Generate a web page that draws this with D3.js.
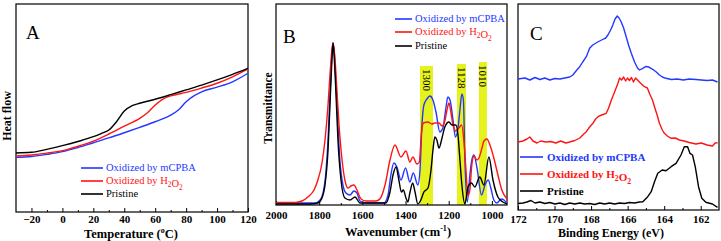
<!DOCTYPE html>
<html>
<head>
<meta charset="utf-8">
<script src="https://cdn.jsdelivr.net/npm/d3@7"></script>
<style>
  body { margin: 0; background: #fff; }
  svg { display: block; }
  svg text { font-family: "Liberation Serif", "Times New Roman", serif; }
</style>
</head>
<body>
<svg id="chart" width="721" height="241"></svg>
<script>
// series labels and colours
const seriesLabels = ['Oxidized by mCPBA', 'Oxidized by H2O2', 'Pristine'];
const seriesColors = ['#2438ff', '#ff1414', '#000000'];

// panel A: DSC heat flow (a.u.) vs temperature (°C)
const tempTicks = [-20, 0, 20, 40, 60, 80, 100, 120];
const dscMcpba = [[-30, 26.3], [-20, 26.7], [-10, 27.7], [0, 29.0], [10, 31.0], [20, 33.3], [30, 35.6], [40, 38.1], [50, 40.7], [60, 43.4], [70, 46.6], [75, 49.0], [80, 53.0], [85, 55.8], [90, 57.8], [100, 60.0], [110, 62.6], [120, 66.7]];
const dscH2o2 = [[-30, 26.9], [-20, 27.4], [-10, 28.3], [0, 29.5], [10, 31.6], [20, 34.1], [30, 37.5], [40, 41.3], [50, 45.0], [55, 47.7], [60, 51.4], [65, 54.3], [70, 55.8], [80, 57.5], [90, 59.6], [100, 61.9], [110, 65.0], [120, 68.8]];
const dscPristine = [[-30, 28.4], [-20, 28.7], [-10, 30.1], [0, 31.9], [10, 33.9], [20, 36.2], [25, 37.7], [30, 39.4], [35, 43.4], [40, 48.6], [45, 51.1], [50, 52.3], [60, 54.2], [70, 56.4], [80, 58.7], [90, 61.0], [100, 63.5], [110, 66.2], [120, 69.1]];

// panel B: FTIR transmittance (a.u.) vs wavenumber (cm-1)
const waveTicks = [2000, 1800, 1600, 1400, 1200, 1000];
const bandLabels = ['1300', '1128', '1010'];
const bandFrom = [1333, 1162, 1060];
const bandTo = [1273, 1120, 1023];
const bandTop = [69.5, 70.5, 71.5];
const irMcpba = [[2000, 1], [1819, 1], [1796, 2.5], [1782, 6], [1768, 17.5], [1759, 32.5], [1750, 55], [1741, 75], [1736, 81], [1731, 77.5], [1722, 60], [1713, 40], [1704, 22.5], [1690, 10], [1676, 6], [1657, 5], [1639, 7], [1625, 6], [1611, 2], [1583, 1], [1500, 1], [1481, 5], [1468, 15], [1454, 21], [1440, 19], [1421, 12.5], [1400, 18.5], [1380, 11.5], [1364, 16], [1343, 10], [1333, 17.5], [1324, 40], [1315, 50], [1301, 53], [1287, 54.5], [1273, 52.5], [1259, 46.5], [1241, 36.5], [1227, 38.5], [1213, 48.5], [1204, 54], [1194, 52.5], [1180, 42.5], [1169, 34], [1157, 38.5], [1148, 47.5], [1139, 55.5], [1132, 52.5], [1125, 22.5], [1114, 1.5], [1102, 15], [1093, 22.5], [1083, 25], [1069, 18.5], [1048, 5], [1032, 10], [1017, 12.5], [1005, 8.5], [991, 2.5], [977, 1], [956, 3], [944, 2.5], [930, 0.5]];
const irH2o2 = [[2000, 1.25], [1912, 1.25], [1880, 2], [1852, 4], [1824, 7.5], [1806, 12.5], [1787, 21], [1773, 32.5], [1759, 50], [1750, 65], [1741, 77.5], [1736, 81], [1727, 73.5], [1718, 57.5], [1708, 40], [1694, 22.5], [1681, 12.5], [1667, 8.5], [1653, 9.5], [1639, 10], [1625, 7.5], [1606, 3], [1583, 2], [1537, 2], [1519, 3], [1495, 10], [1472, 22.5], [1449, 30], [1421, 24], [1398, 27], [1380, 21.5], [1366, 24], [1347, 20.5], [1336, 21.5], [1327, 35], [1317, 41], [1296, 41.5], [1278, 40.5], [1264, 41], [1245, 41], [1231, 39.5], [1218, 42], [1208, 47.5], [1199, 51], [1190, 46.5], [1180, 40], [1167, 37], [1153, 38.5], [1140, 40], [1130, 32.5], [1120, 17.5], [1111, 4.5], [1102, 7.5], [1093, 20], [1083, 24.5], [1069, 22.5], [1060, 23.5], [1046, 28.5], [1037, 32], [1023, 33], [1009, 30], [991, 23.5], [972, 15], [954, 7.5], [930, 3]];
const irPristine = [[2000, 0.5], [1843, 0.5], [1806, 1], [1787, 3.5], [1773, 10], [1759, 27.5], [1750, 50], [1741, 72.5], [1736, 81], [1731, 75], [1722, 55], [1713, 32.5], [1699, 12.5], [1681, 3.5], [1657, 2.5], [1634, 4], [1611, 1], [1491, 1], [1472, 6.5], [1458, 15], [1444, 19], [1431, 12.5], [1419, 6.5], [1410, 7.5], [1398, 3.5], [1389, 1.5], [1380, 6], [1367, 11], [1356, 6.5], [1343, 0.5], [1329, 2.5], [1315, 6.5], [1296, 8.5], [1282, 17.5], [1273, 27.5], [1264, 34], [1255, 32.5], [1245, 28.5], [1231, 33.5], [1218, 39], [1199, 41.5], [1185, 40], [1167, 40], [1157, 35], [1148, 22.5], [1139, 10], [1125, 0.5], [1111, 9], [1095, 11], [1079, 9], [1056, 14], [1037, 10], [1014, 24], [995, 12.5], [972, 4], [949, 1.5], [930, 0.5]];

// panel C: XPS S 2p intensity (a.u.) vs binding energy (eV)
const energyTicks = [172, 170, 168, 166, 164, 162];
const xpsMcpba = [[172, 65.5], [171.62, 66], [171.35, 65], [171.07, 66.25], [170.8, 65.25], [170.53, 66], [170.26, 65], [169.98, 65.75], [169.71, 65.5], [169.44, 66], [169.17, 66.5], [169.0, 67.5], [168.78, 70], [168.62, 71.65], [168.46, 74], [168.26, 76.65], [168.08, 80.85], [167.91, 82.5], [167.64, 84], [167.37, 85.25], [167.2, 86], [167.08, 87.5], [166.93, 90], [166.81, 92.5], [166.69, 95.5], [166.57, 97], [166.47, 96], [166.35, 94], [166.22, 91], [166.08, 86.65], [165.95, 82.5], [165.8, 78.35], [165.62, 74], [165.46, 71], [165.35, 70], [165.17, 70.85], [165.02, 71.75], [164.9, 71.65], [164.75, 71], [164.63, 70.35], [164.43, 69], [164.26, 67.5], [164.1, 66.5], [163.9, 65.85], [163.61, 65.25], [163.28, 65.5], [162.95, 65], [162.63, 65.5], [162.26, 65.25], [161.97, 65], [161.65, 64.75], [161.36, 65], [161.08, 64]];
const xpsH2o2 = [[172, 34], [171.73, 34.5], [171.51, 35.5], [171.35, 36.5], [171.18, 34.5], [170.96, 33.5], [170.75, 34.5], [170.47, 34], [170.2, 34.25], [169.93, 33.5], [169.66, 34.5], [169.38, 33.5], [169.17, 34], [168.89, 34.75], [168.62, 36], [168.4, 38], [168.26, 39.15], [168.08, 41.5], [167.9, 43.35], [167.75, 45.5], [167.62, 46.65], [167.42, 47.5], [167.17, 48.35], [167.04, 51], [166.89, 55], [166.71, 59.15], [166.53, 63.35], [166.44, 66], [166.33, 65], [166.22, 66.5], [166.11, 64.5], [166.01, 66], [165.9, 64.75], [165.79, 66.25], [165.68, 64], [165.57, 66], [165.46, 65], [165.3, 63.5], [165.08, 61.65], [164.92, 61], [164.81, 58.35], [164.64, 55], [164.53, 51.65], [164.37, 47], [164.26, 43.35], [164.1, 40], [163.99, 38.35], [163.83, 37], [163.62, 35.85], [163.39, 36], [163.17, 35], [162.9, 34.5], [162.63, 33.75], [162.26, 33], [161.97, 33.5], [161.65, 32.5], [161.36, 32], [161.21, 33.5], [161.08, 33.65]];
const xpsPristine = [[172, 3.25], [171.73, 3.5], [171.51, 4], [171.29, 4.75], [171.07, 3.5], [170.8, 4], [170.53, 3.25], [170.26, 3.75], [169.98, 3], [169.71, 3.5], [169.44, 2.75], [169.17, 3.5], [168.89, 3], [168.62, 3.5], [168.35, 3], [168.08, 3.25], [167.8, 2.75], [167.53, 3.5], [167.26, 3], [166.99, 3.5], [166.71, 3], [166.44, 3.5], [166.17, 3.25], [165.9, 3.75], [165.62, 3.5], [165.35, 4], [165.17, 4.15], [164.9, 6.65], [164.71, 9.15], [164.53, 14.15], [164.35, 18.35], [164.11, 20], [163.9, 19.65], [163.62, 21.65], [163.35, 23.35], [163.08, 27.5], [162.9, 31.65], [162.72, 31.65], [162.59, 28.35], [162.45, 27.5], [162.3, 21.65], [162.12, 11.65], [161.94, 5.85], [161.72, 3.85], [161.36, 3], [161.08, 1.35]];

const svg = d3.select('#chart');

// H2O2 -> subscripted digits
const richText = (sel, label) => {
  label.split(/(\d)/).filter(s => s !== '').forEach((part) => {
    if (/\d/.test(part)) {
      sel.append('tspan').attr('font-size', '70%').attr('dy', 3).text(part);
      sel.append('tspan').attr('dy', -3).text('');
    } else {
      sel.append('tspan').text(part);
    }
  });
};

const frame = (x, y, opts) => {
  const g = svg.append('g');
  const [x0, x1] = x.range();
  const [y0, y1] = y.range();
  g.append('rect')
    .attr('x', x0).attr('y', y1)
    .attr('width', x1 - x0).attr('height', y0 - y1)
    .attr('fill', 'none').attr('stroke', '#000').attr('stroke-width', 1.2);
  const minor = g.append('g').attr('transform', `translate(0,${y0})`)
    .call(d3.axisBottom(x).tickValues(opts.minor).tickSize(-2).tickFormat(''));
  const major = g.append('g').attr('transform', `translate(0,${y0})`)
    .call(d3.axisBottom(x).tickValues(opts.major).tickFormat(d3.format('d'))
      .tickSizeInner(-4).tickSizeOuter(0).tickPadding(opts.pad));
  [minor, major].forEach(a => a.attr('font-family', null).select('.domain').remove());
  g.selectAll('.tick line').attr('stroke', '#000').attr('stroke-width', 1);
  major.selectAll('text')
    .attr('font-size', 11).attr('font-weight', 'bold').attr('fill', '#000');
  return g;
};

const drawLines = (x, y, sets, curve) => {
  const line = d3.line().x(d => x(d[0])).y(d => y(d[1])).curve(curve);
  sets.forEach((s, i) => {
    svg.append('path').datum(s)
      .attr('d', line)
      .attr('fill', 'none')
      .attr('stroke', seriesColors[i])
      .attr('stroke-width', 1.4)
      .attr('stroke-linejoin', 'round');
  });
};

const legend = (x1, x2, tx, ys, size, bold) => {
  seriesLabels.forEach((label, i) => {
    svg.append('line')
      .attr('x1', x1).attr('x2', x2).attr('y1', ys[i]).attr('y2', ys[i])
      .attr('stroke', seriesColors[i]).attr('stroke-width', 1.6);
    const t = svg.append('text')
      .attr('x', tx).attr('y', ys[i] + size * 0.33)
      .attr('font-size', size)
      .attr('font-weight', bold ? 'bold' : 'normal')
      .attr('fill', seriesColors[i]);
    richText(t, label);
  });
};

const panelLetter = (x, y, letter) => {
  svg.append('text').attr('x', x).attr('y', y)
    .attr('font-size', 19).text(letter);
};

// ---- panel A
const xA = d3.scaleLinear().domain([-30, 120]).range([16, 248]);
const yA = d3.scaleLinear().domain([0, 100]).range([212, 4]);
frame(xA, yA, { major: tempTicks, minor: [-10, 10, 30, 50, 70, 90, 110], pad: 3 });
drawLines(xA, yA, [dscMcpba, dscH2o2, dscPristine], d3.curveMonotoneX);
legend(81, 103, 106, [168, 181, 194], 10.5, false);
panelLetter(26, 38.5, 'A');
svg.append('text').attr('transform', 'translate(11,116) rotate(-90)')
  .attr('text-anchor', 'middle').attr('font-size', 12).attr('font-weight', 'bold')
  .text('Heat flow');
const tA = svg.append('text').attr('x', 131).attr('y', 237.5)
  .attr('text-anchor', 'middle').attr('font-size', 12.5).attr('font-weight', 'bold');
tA.append('tspan').text('Temperature (');
tA.append('tspan').attr('font-size', 8).attr('dy', -5).text('o');
tA.append('tspan').attr('dy', 5).text('C)');

// ---- panel B
const xB = d3.scaleLinear().domain([2000, 930]).range([276, 507]);
const yB = d3.scaleLinear().domain([0, 100.5]).range([205, 4]);
svg.append('g').selectAll('rect').data(bandLabels).enter().append('rect')
  .attr('x', (d, i) => xB(bandFrom[i]))
  .attr('y', (d, i) => yB(bandTop[i]))
  .attr('width', (d, i) => xB(bandTo[i]) - xB(bandFrom[i]))
  .attr('height', (d, i) => yB(0) - yB(bandTop[i]))
  .attr('fill', '#e6f21c');
svg.append('g').selectAll('text').data(bandLabels).enter().append('text')
  .attr('transform', (d, i) => `translate(${(xB(bandFrom[i]) + xB(bandTo[i])) / 2 - 3.5},${yB(bandTop[i]) + 3}) rotate(90)`)
  .attr('font-size', 11).text(d => d);
frame(xB, yB, { major: waveTicks, minor: [1900, 1700, 1500, 1300, 1100], pad: 6 });
drawLines(xB, yB, [irMcpba, irH2o2, irPristine], d3.curveMonotoneX);
legend(395, 412, 415, [19, 32, 46], 10.5, false);
panelLetter(283, 43, 'B');
svg.append('text').attr('transform', 'translate(272,108) rotate(-90)')
  .attr('text-anchor', 'middle').attr('font-size', 11.5).attr('font-weight', 'bold')
  .text('Transmittance');
const tB = svg.append('text').attr('x', 398).attr('y', 236)
  .attr('text-anchor', 'middle').attr('font-size', 12.5).attr('font-weight', 'bold');
tB.append('tspan').text('Wavenumber (cm');
tB.append('tspan').attr('font-size', 8).attr('dy', -5).text('-1');
tB.append('tspan').attr('dy', 5).text(')');

// ---- panel C
const xC = d3.scaleLinear().domain([172, 161]).range([518, 719]);
const yC = d3.scaleLinear().domain([0, 103]).range([210, 4]);
frame(xC, yC, { major: energyTicks, minor: [171, 169, 167, 165, 163], pad: 5 });
drawLines(xC, yC, [xpsMcpba, xpsH2o2, xpsPristine], d3.curveLinear);
legend(520, 543, 547, [157, 174, 191], 11, true);
panelLetter(530, 40, 'C');
svg.append('text').attr('x', 611).attr('y', 237)
  .attr('text-anchor', 'middle').attr('font-size', 12).attr('font-weight', 'bold')
  .text('Binding Energy (eV)');
</script>
</body>
</html>
